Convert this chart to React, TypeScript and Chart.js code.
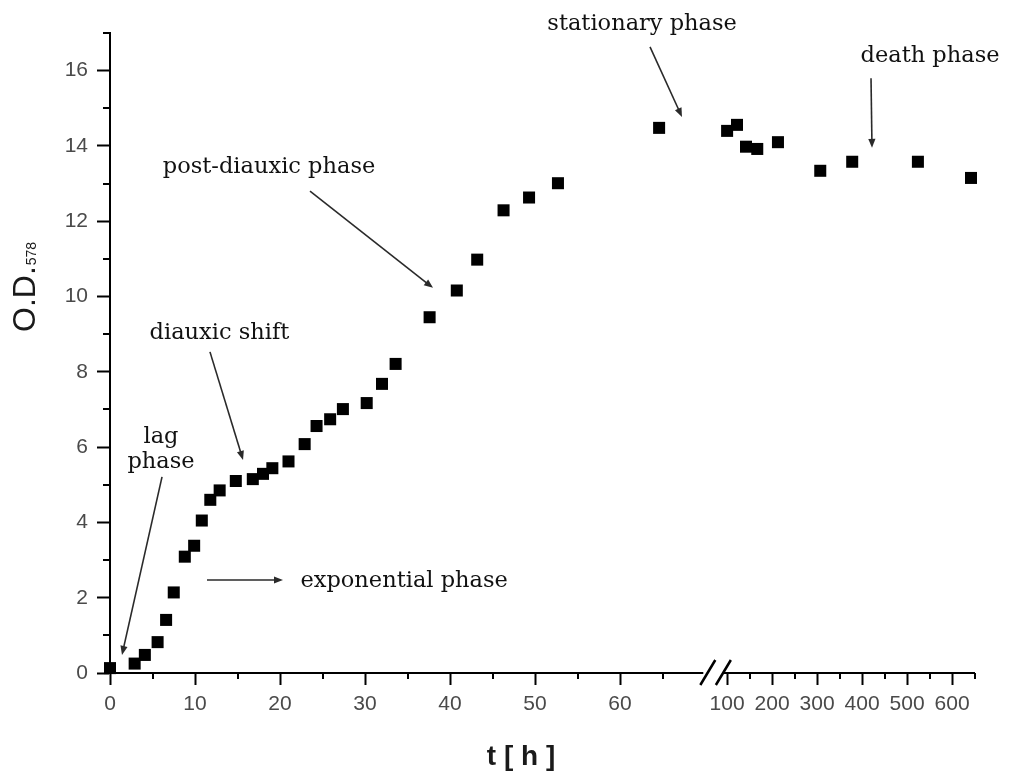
import { useEffect, useRef } from 'react';
import { Chart, registerables } from 'chart.js';

Chart.register(...registerables);

// Yeast batch culture: sampling time (h) and optical density at 578 nm
const timeHours = [
  0, 2.9, 4.1, 5.6, 6.6, 7.5, 8.8, 9.9, 10.8, 11.8, 12.9, 14.8, 16.8, 18.0, 19.1,
  21.0, 22.9, 24.3, 25.9, 27.4, 30.2, 32.0, 33.6, 37.6, 40.8, 43.2, 46.3, 49.3, 52.7,
  64.6, 100, 122, 142, 167, 213, 307, 378, 524, 642,
];
const opticalDensity = [
  0.13, 0.25, 0.48, 0.82, 1.41, 2.14, 3.09, 3.38, 4.05, 4.6, 4.85, 5.1, 5.15, 5.29, 5.44,
  5.62, 6.08, 6.56, 6.74, 7.01, 7.17, 7.68, 8.21, 9.45, 10.16, 10.98, 12.29, 12.63, 13.01,
  14.48, 14.4, 14.56, 13.98, 13.92, 14.1, 13.34, 13.58, 13.58, 13.15,
];

// Axis ticks
const xMajorHours = [0, 10, 20, 30, 40, 50, 60, 100, 200, 300, 400, 500, 600];
const xMajorLabels = ['0', '10', '20', '30', '40', '50', '60', '100', '200', '300', '400', '500', '600'];
const xMinorHours = [5, 15, 25, 35, 45, 55, 65, 150, 250, 350, 450, 550, 650];
const yMajorValues = [0, 2, 4, 6, 8, 10, 12, 14, 16];
const yMajorLabels = ['0', '2', '4', '6', '8', '10', '12', '14', '16'];
const yMinorValues = [1, 3, 5, 7, 9, 11, 13, 15, 17];

// Growth phase annotations, anchored in (hours, O.D.) units
const phaseTexts = ['stationary phase', 'death phase', 'post-diauxic phase', 'diauxic shift', 'lag', 'phase', 'exponential phase'];
const phaseTextAt = [
  [62.6, 17.08], [550.9, 16.23], [18.71, 13.28], [12.88, 8.87], [6.0, 6.11], [6.0, 5.445], [34.6, 2.28],
];
const arrowFrom = [
  [63.53, 16.63], [419.8, 15.8], [23.53, 12.8], [11.76, 8.53], [6.12, 5.21], [11.41, 2.47],
];
const arrowTo = [
  [67.29, 14.77], [422, 13.95], [38.0, 10.23], [15.65, 5.66], [1.41, 0.48], [20.35, 2.47],
];

// Broken time axis: linear up to 70 h, compressed from 100 h on
const LINEAR_END_H = 70;
const RESUME_H = 100;
const RESUME_AT = 72.6;
const HOURS_PER_UNIT_AFTER = 18.89;
const X_MAX_H = 650;

const toAxis = (h: number) =>
  h <= LINEAR_END_H ? h : RESUME_AT + (h - RESUME_H) / HOURS_PER_UNIT_AFTER;

const TICK_FONT = { family: '"Liberation Sans", Arial, sans-serif', size: 21 };
const TICK_COLOR = '#4a4a4a';

const decorations = {
  id: 'growthDecorations',
  beforeDatasetsDraw(chart: any) {
    const { ctx, scales } = chart;
    const x = scales.x;
    const y = scales.y;
    const bottom = chart.chartArea.bottom;
    const left = chart.chartArea.left;
    ctx.save();
    ctx.strokeStyle = '#000';
    ctx.lineWidth = 2;
    ctx.beginPath();
    for (const h of xMinorHours) {
      const px = Math.round(x.getPixelForValue(toAxis(h)));
      ctx.moveTo(px, bottom);
      ctx.lineTo(px, bottom + 6);
    }
    for (const v of yMinorValues) {
      const py = Math.round(y.getPixelForValue(v));
      ctx.moveTo(left - 7, py);
      ctx.lineTo(left, py);
    }
    ctx.stroke();

    // axis break
    const g0 = x.getPixelForValue(69.8);
    const g1 = x.getPixelForValue(72.1);
    ctx.fillStyle = '#fff';
    ctx.fillRect(g0, bottom - 3, g1 - g0, 6);
    ctx.lineWidth = 2.5;
    ctx.beginPath();
    for (const c of [g0 + 4.5, g1 + 0.5]) {
      ctx.moveTo(c - 7.5, bottom + 12);
      ctx.lineTo(c + 7.5, bottom - 13);
    }
    ctx.stroke();
    ctx.restore();
  },
  afterDraw(chart: any) {
    const { ctx, scales } = chart;
    const x = scales.x;
    const y = scales.y;
    const px = (h: number) => x.getPixelForValue(toAxis(h));
    const py = (v: number) => y.getPixelForValue(v);
    ctx.save();

    // phase labels
    ctx.fillStyle = '#111';
    ctx.font = '22.5px "DejaVu Serif", serif';
    ctx.textAlign = 'center';
    ctx.textBaseline = 'alphabetic';
    phaseTexts.forEach((t, i) => {
      ctx.fillText(t, px(phaseTextAt[i][0]), py(phaseTextAt[i][1]));
    });

    // arrows
    ctx.strokeStyle = '#2a2a2a';
    ctx.fillStyle = '#2a2a2a';
    ctx.lineWidth = 1.6;
    arrowFrom.forEach((f, i) => {
      const x0 = px(f[0]);
      const y0 = py(f[1]);
      const x1 = px(arrowTo[i][0]);
      const y1 = py(arrowTo[i][1]);
      const a = Math.atan2(y1 - y0, x1 - x0);
      const L = 9;
      const W = 3.6;
      ctx.beginPath();
      ctx.moveTo(x0, y0);
      ctx.lineTo(x1 - Math.cos(a) * L * 0.6, y1 - Math.sin(a) * L * 0.6);
      ctx.stroke();
      ctx.beginPath();
      ctx.moveTo(x1, y1);
      ctx.lineTo(x1 - Math.cos(a) * L - Math.sin(a) * W, y1 - Math.sin(a) * L + Math.cos(a) * W);
      ctx.lineTo(x1 - Math.cos(a) * L + Math.sin(a) * W, y1 - Math.sin(a) * L - Math.cos(a) * W);
      ctx.closePath();
      ctx.fill();
    });

    // axis titles
    ctx.fillStyle = '#1a1a1a';
    ctx.textAlign = 'center';
    ctx.font = 'bold 28px "Liberation Sans", Arial, sans-serif';
    ctx.fillText('t [ h ]', 521, 765);

    ctx.translate(35, 332);
    ctx.rotate(-Math.PI / 2);
    ctx.textAlign = 'left';
    ctx.font = '32px "Liberation Sans", Arial, sans-serif';
    ctx.fillText('O.D.', 0, 0);
    const w = ctx.measureText('O.D.').width;
    ctx.font = '14px "Liberation Sans", Arial, sans-serif';
    ctx.fillText('578', w + 1, 1);
    ctx.restore();
  },
};

export default function App() {
  const canvasRef = useRef<HTMLCanvasElement | null>(null);

  useEffect(() => {
    const canvas = canvasRef.current;
    if (!canvas) return;
    const points = timeHours.map((h, i) => ({ x: toAxis(h), y: opticalDensity[i] }));
    const chart = new Chart(canvas, {
      type: 'scatter',
      data: {
        datasets: [
          {
            data: points,
            pointStyle: 'rect',
            pointRadius: 8.5,
            pointHoverRadius: 8.5,
            backgroundColor: '#000',
            borderColor: '#000',
            borderWidth: 0,
            clip: false,
          } as any,
        ],
      },
      options: {
        animation: false,
        responsive: false,
        maintainAspectRatio: false,
        events: [],
        layout: { padding: { left: 10, right: 34.4, top: 33, bottom: 39 } },
        plugins: { legend: { display: false }, tooltip: { enabled: false } },
        scales: {
          x: {
            type: 'linear',
            min: 0,
            max: toAxis(X_MAX_H),
            afterBuildTicks: (s: any) => {
              s.ticks = xMajorHours.map((h) => ({ value: toAxis(h) }));
            },
            afterFit: (s: any) => {
              s.height = 60;
            },
            ticks: {
              autoSkip: false,
              maxRotation: 0,
              padding: 7,
              color: TICK_COLOR,
              font: TICK_FONT,
              callback: (_v: any, i: number) => xMajorLabels[i],
            },
            grid: { display: true, drawOnChartArea: false, drawTicks: true, tickLength: 12, tickWidth: 2, tickColor: '#000' },
            border: { display: true, color: '#000', width: 2 },
          },
          y: {
            type: 'linear',
            min: 0,
            max: 17,
            afterBuildTicks: (s: any) => {
              s.ticks = yMajorValues.map((v) => ({ value: v }));
            },
            afterFit: (s: any) => {
              s.width = 100;
            },
            ticks: {
              autoSkip: false,
              padding: 9,
              color: TICK_COLOR,
              font: TICK_FONT,
              callback: (_v: any, i: number) => yMajorLabels[i],
            },
            grid: { display: true, drawOnChartArea: false, drawTicks: true, tickLength: 13, tickWidth: 2, tickColor: '#000' },
            border: { display: true, color: '#000', width: 2 },
          },
        },
      },
      plugins: [decorations],
    });
    return () => chart.destroy();
  }, []);

  return (
    <div style={{ position: 'fixed', left: 0, top: 0, width: 1009, height: 772, background: '#fff' }}>
      <canvas ref={canvasRef} width={1009} height={772} style={{ display: 'block' }} />
    </div>
  );
}
